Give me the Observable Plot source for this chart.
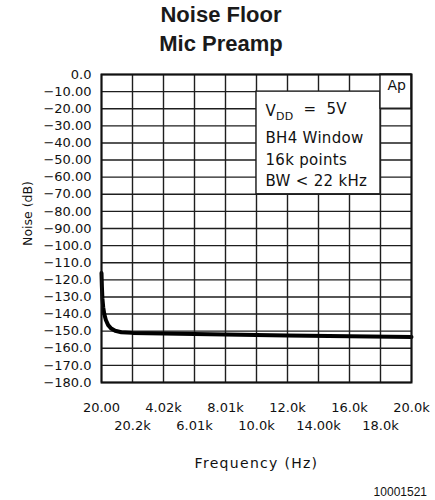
<!DOCTYPE html>
<html>
<head>
<meta charset="utf-8">
<script src="https://cdn.jsdelivr.net/npm/d3@7"></script>
<script src="https://cdn.jsdelivr.net/npm/@observablehq/plot@0.6"></script>
<style>
  html, body { margin: 0; padding: 0; background: white; }
  #wrap { width: 435px; height: 500px; position: relative; }
  #title { box-sizing: border-box; width: 435px; padding-left: 7px; height: 58px;
           font-family: "Liberation Sans", Arial, sans-serif; font-weight: bold;
           font-size: 22px; line-height: 29px; text-align: center; color: #1a1a1a; }
  #caption { box-sizing: border-box; width: 435px; padding-right: 8px; margin-top: 2px;
             font-family: "Liberation Sans", Arial, sans-serif; font-size: 12px;
             line-height: 16px; text-align: right; color: #111; }
  svg { display: block; }
</style>
</head>
<body>
<div id="wrap">
  <div id="title">Noise Floor<br>Mic Preamp</div>
  <div id="chart"></div>
  <div id="caption">10001521</div>
</div>
<script>
// ---- data ----
const freqHz = [20, 45, 80, 130, 200, 300, 450, 650, 900, 1300, 2000, 4000, 8000, 12000, 16000, 20000];
const noiseDb = [-116, -124, -131, -136, -140, -143.5, -146.5, -148.5, -149.8, -150.6, -151, -151.4, -152, -152.6, -153, -153.4];

const xTickValues = [20, 2018, 4016, 6014, 8012, 10010, 12008, 14006, 16004, 18002, 20000];
const xTickLabels = ["20.00", "20.2k", "4.02k", "6.01k", "8.01k", "10.0k", "12.0k", "14.00k", "16.0k", "18.0k", "20.0k"];

const yTickValues = [0, -10, -20, -30, -40, -50, -60, -70, -80, -90, -100, -110, -120, -130, -140, -150, -160, -170, -180];
const yTickLabels = ["0.0", "\u221210.00", "\u221220.00", "\u221230.00", "\u221240.00", "\u221250.00", "\u221260.00", "\u221270.00", "\u221280.00", "\u221290.00",
  "\u2212100.0", "\u2212110.0", "\u2212120.0", "\u2212130.0", "\u2212140.0", "\u2212150.0", "\u2212160.0", "\u2212170.0", "\u2212180.0"];

const legendLines = ["VDD = 5V", "BH4 Window", "16k points", "BW < 22 kHz"];
const legendLineDb = [-21.2, -37.1, -50.0, -62.5];

// ---- build ----
const curve = freqHz.map((f, i) => ({f, db: noiseDb[i]}));
const xLabelMap = new Map(xTickValues.map((v, i) => [v, xTickLabels[i]]));
const yLabelMap = new Map(yTickValues.map((v, i) => [v, yTickLabels[i]]));
const xRow1 = xTickValues.filter((d, i) => i % 2 === 0);
const xRow2 = xTickValues.filter((d, i) => i % 2 === 1);
const boxes = [
  {x1: xTickValues[5], x2: xTickValues[9], y1: -70, y2: -10},
  {x1: xTickValues[9], x2: xTickValues[10], y1: -20, y2: 0}
];
const legend = legendLines.map((t, i) => ({t, db: legendLineDb[i]}));
const gridStyle = {stroke: "#1e1e1e", strokeOpacity: 1, strokeWidth: 1.4};

const chart = Plot.plot({
  width: 435,
  height: 424,
  marginTop: 16,
  marginBottom: 100,
  marginLeft: 101,
  marginRight: 24,
  style: {fontFamily: "'DejaVu Sans', sans-serif", fontSize: "13px", color: "#111", background: "white", overflow: "visible"},
  x: {type: "linear", domain: [20, 20000]},
  y: {domain: [-180, 0]},
  marks: [
    Plot.gridX(xTickValues, gridStyle),
    Plot.gridY(yTickValues, gridStyle),
    Plot.rect(boxes, {x1: "x1", x2: "x2", y1: "y1", y2: "y2", fill: "white", ...gridStyle}),
    Plot.line(curve, {x: "f", y: "db", stroke: "black", strokeWidth: 4}),
    Plot.frame({stroke: "#111", strokeWidth: 2}),
    Plot.axisY(yTickValues, {tickSize: 0, tickPadding: 10, tickFormat: d => yLabelMap.get(d), label: null, fontSize: 13}),
    Plot.axisX(xRow1, {tickSize: 0, tickPadding: 20, tickFormat: d => xLabelMap.get(d), label: null, fontSize: 13}),
    Plot.axisX(xRow2, {tickSize: 0, tickPadding: 38, tickFormat: d => xLabelMap.get(d), label: null, fontSize: 13}),
    Plot.text(legend, {x: () => xTickValues[5], y: "db", text: "t", textAnchor: "start", dx: 9, fontSize: 15, lineAnchor: "middle", fill: "#111"}),
    Plot.text(["Ap"], {x: () => xTickValues[9], y: () => -6.7, text: d => d, textAnchor: "start", dx: 7, fontSize: 14, lineAnchor: "middle", fill: "#111"}),
    Plot.text(["Frequency (Hz)"], {frameAnchor: "bottom", text: d => d, dy: 81, fontSize: 14, lineAnchor: "middle", fill: "#111"}),
    Plot.text(["Noise (dB)"], {frameAnchor: "left", text: d => d, dx: -74, dy: -15, rotate: -90, textAnchor: "middle", fontSize: 12.5, lineAnchor: "middle", fill: "#111"})
  ]
});
document.getElementById("chart").appendChild(chart);

// letter spacing & subscript
const svg = d3.select(chart);
svg.selectAll("text").each(function () {
  const t = this.textContent;
  if (t === "Frequency (Hz)") d3.select(this).style("letter-spacing", "1.3px");
  if (legendLines.includes(t)) d3.select(this).style("letter-spacing", "0.3px");
  if (t === "VDD = 5V") {
    const el = d3.select(this);
    el.text(null);
    el.append("tspan").text("V");
    el.append("tspan").attr("font-size", 11).attr("dy", "0.42em").text("DD");
    el.append("tspan").attr("dy", "-0.42em").attr("dx", 10).text("=");
    el.append("tspan").attr("dx", 10).text("5V");
  }
});
</script>
</body>
</html>
